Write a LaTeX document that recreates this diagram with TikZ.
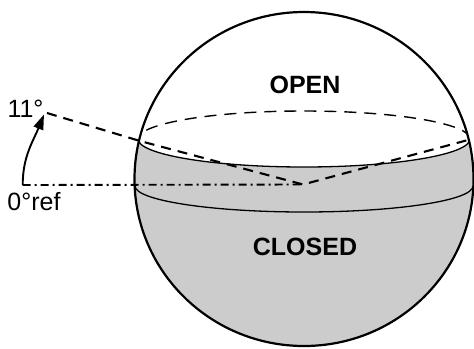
\documentclass[tikz,border=0pt]{standalone}
\usepackage{fontspec}
\setmainfont{Liberation Sans}
\usetikzlibrary{arrows.meta}
\definecolor{fillgray}{HTML}{CCCCCC}
\tikzset{
  sphereline/.style={line width=2.2bp},
  bandline/.style={line width=1.3bp},
  backdash/.style={line width=1.4bp, dash pattern=on 12bp off 8bp},
  angledash/.style={line width=2.1bp, dash pattern=on 10bp off 7bp},
  refline/.style={line width=1.9bp, dash pattern=on 8bp off 4bp on 2bp off 4bp},
  lbl/.style={inner sep=0pt, anchor=base, font=\fontsize{25bp}{29bp}\selectfont},
  blbl/.style={inner sep=0pt, anchor=base, font=\fontsize{25bp}{29bp}\selectfont\bfseries},
}
\begin{document}
\begin{tikzpicture}[x=1bp,y=1bp]
\useasboundingbox (0,0) rectangle (474,348);
% gray lower part
\begin{scope}
  \clip (304,169) ellipse[x radius=169.5, y radius=167];
  \fill[fillgray] (138,209) arc[start angle=180, end angle=360, x radius=166, y radius=28]
    -- (480,209) -- (480,-5) -- (120,-5) -- (120,209) -- cycle;
  \draw[bandline] (138,209) arc[start angle=180, end angle=360, x radius=166, y radius=28];
  \draw[backdash] (470,209) arc[start angle=0, end angle=180, x radius=166, y radius=28];
  \draw[bandline] (135,162) arc[start angle=180, end angle=360, x radius=169, y radius=26];
\end{scope}
% coordinates
\coordinate (tip) at (47,235);
\coordinate (lefthit) at (140,207);
\coordinate (vertex) at (303,163.5);
\coordinate (righthit) at (468,208);
\coordinate (refstart) at (22.7,163);
\coordinate (arrowtip) at (44,233.5);
% angle lines
\draw[angledash] (tip) -- (lefthit) -- (vertex) -- (righthit);
\draw[refline] (refstart) -- (vertex);
% sphere outline
\draw[sphereline] (304,169) ellipse[x radius=169.5, y radius=167];
% angle arrow
\draw[line width=1.9bp, -{Triangle[length=15bp,width=10bp]}] (refstart) to[out=90,in=248] (arrowtip);
% labels
\node[lbl] (a11) at (25.5,230.3) {11°};
\node[lbl] (a0) at (34,138) {0°ref};
\node[blbl] (open) at (305,255) {OPEN};
\node[blbl] (closed) at (305,93) {CLOSED};
\end{tikzpicture}
\end{document}
